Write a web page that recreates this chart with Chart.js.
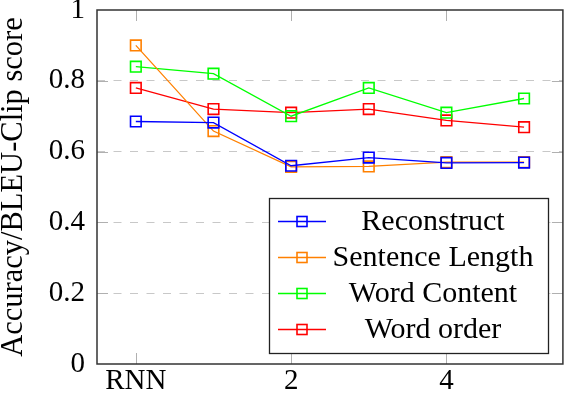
<!DOCTYPE html>
<html>
<head>
<meta charset="utf-8">
<script src="https://cdn.jsdelivr.net/npm/chart.js@4.4.1/dist/chart.umd.min.js"></script>
<style>
  html, body { margin: 0; padding: 0; background: #fff; overflow: hidden; }
  #wrap { width: 564px; height: 396px; overflow: hidden; }
</style>
</head>
<body>
<div id="wrap"><canvas id="chart" width="572" height="396"></canvas></div>
<script>
const categories = ['RNN', '1', '2', '3', '4', '5'];
const reconstruct = [0.685, 0.682, 0.560, 0.583, 0.568, 0.569];
const sentenceLength = [0.900, 0.658, 0.557, 0.558, 0.570, 0.570];
const wordContent = [0.840, 0.820, 0.700, 0.780, 0.710, 0.750];
const wordOrder = [0.780, 0.720, 0.710, 0.720, 0.688, 0.669];
const yTicks = [0, 0.2, 0.4, 0.6, 0.8, 1];
const xTickLabels = ['RNN', '2', '4'];

const FONT = '"Liberation Serif", "Times New Roman", serif';

function series(label, data, color) {
  return {
    label: label,
    data: data,
    borderColor: color,
    backgroundColor: color,
    borderWidth: 1.3,
    pointStyle: 'rect',
    pointRadius: 7.5,
    pointHoverRadius: 7.5,
    pointBorderWidth: 1.6,
    pointBackgroundColor: 'rgba(0,0,0,0)',
    pointBorderColor: color,
    tension: 0
  };
}

// frame, inner tick marks and the boxed legend
const decor = {
  id: 'decor',
  afterDatasetsDraw(chart) {
    const { ctx, chartArea: a, scales } = chart;
    ctx.save();
    ctx.strokeStyle = '#b0b0b0';
    ctx.lineWidth = 1;
    categories.forEach((c, i) => {
      if (!xTickLabels.includes(c)) return;
      const x = Math.round(scales.x.getPixelForValue(i)) + 0.5;
      ctx.beginPath();
      ctx.moveTo(x, a.bottom); ctx.lineTo(x, a.bottom - 11);
      ctx.moveTo(x, a.top); ctx.lineTo(x, a.top + 11);
      ctx.stroke();
    });
    yTicks.slice(1, -1).forEach(v => {
      const y = Math.round(scales.y.getPixelForValue(v)) + 0.5;
      ctx.beginPath();
      ctx.moveTo(a.left, y); ctx.lineTo(a.left + 11, y);
      ctx.moveTo(a.right, y); ctx.lineTo(a.right - 11, y);
      ctx.stroke();
    });
    ctx.strokeStyle = '#333';
    ctx.lineWidth = 1.5;
    ctx.strokeRect(a.left, a.top, a.right - a.left, a.bottom - a.top);

    // legend
    const lx = 269, ly = 198, lw = 279, lh = 155;
    ctx.fillStyle = '#fff';
    ctx.fillRect(lx, ly, lw, lh);
    ctx.strokeStyle = '#222';
    ctx.lineWidth = 1.3;
    ctx.strokeRect(lx + 0.5, ly + 0.5, lw, lh);
    ctx.font = '30px ' + FONT;
    ctx.textAlign = 'center';
    ctx.textBaseline = 'middle';
    chart.data.datasets.forEach((ds, i) => {
      const y = ly + 23.5 + i * 36;
      ctx.strokeStyle = ds.borderColor;
      ctx.lineWidth = 1.3;
      ctx.beginPath();
      ctx.moveTo(278, y); ctx.lineTo(326, y);
      ctx.stroke();
      ctx.lineWidth = 1.6;
      ctx.strokeRect(297, y - 5, 10, 10);
      ctx.fillStyle = '#000';
      ctx.fillText(ds.label, 433, y + 1);
    });
    ctx.restore();
  }
};

new Chart(document.getElementById('chart'), {
  type: 'line',
  data: {
    labels: categories,
    datasets: [
      series('Reconstruct', reconstruct, '#0000ff'),
      series('Sentence Length', sentenceLength, '#ff8000'),
      series('Word Content', wordContent, '#00ff00'),
      series('Word order', wordOrder, '#ff0000')
    ]
  },
  options: {
    responsive: false,
    animation: false,
    devicePixelRatio: 1,
    layout: { padding: { top: 10, right: 0, left: 0, bottom: 0 } },
    plugins: { legend: { display: false }, tooltip: { enabled: false } },
    scales: {
      x: {
        type: 'category',
        offset: true,
        grid: { display: false, drawTicks: false },
        border: { display: false },
        ticks: {
          color: '#000',
          font: { family: FONT, size: 29 },
          padding: 0,
          autoSkip: false,
          maxRotation: 0,
          callback: function (v, i) {
            const l = categories[i];
            return xTickLabels.includes(l) ? l : '';
          }
        },
        afterFit: s => { s.height = 32; s.paddingLeft = 0; s.paddingRight = 0; }
      },
      y: {
        min: 0,
        max: 1,
        afterBuildTicks: s => { s.ticks = yTicks.map(v => ({ value: v })); },
        grid: {
          drawTicks: false,
          color: c => (c.tick && (c.tick.value === 0 || c.tick.value === 1)) ? 'rgba(0,0,0,0)' : '#c8c8c8',
          lineWidth: 1
        },
        border: { display: false, dash: [8, 8.5] },
        ticks: {
          color: '#000',
          font: { family: FONT, size: 29 },
          padding: 12,
          callback: v => String(v)
        },
        title: {
          display: true,
          text: 'Accuracy/BLEU-Clip score',
          color: '#000',
          font: { family: FONT, size: 30.5, lineHeight: 0.9 },
          padding: { top: 0, bottom: 0 }
        },
        afterFit: s => { s.width = 97; s.paddingTop = 0; s.paddingBottom = 0; }
      }
    }
  },
  plugins: [decor]
});
</script>
</body>
</html>
